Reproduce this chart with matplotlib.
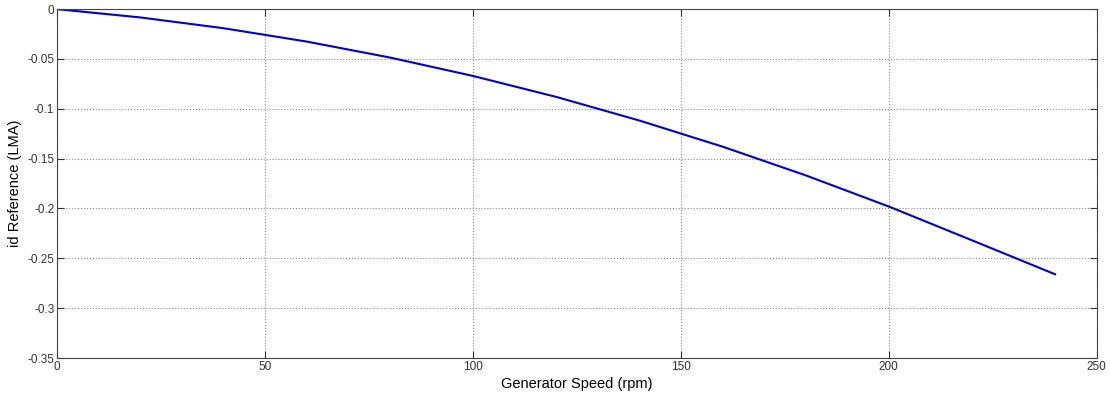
import matplotlib
matplotlib.use("Agg")
import matplotlib.pyplot as plt

# valeurs
speed_rpm = [0, 20, 40, 60, 80, 100, 120, 140, 160, 180, 200, 220, 240]
id_ref = [0.0, -0.0083, -0.0191, -0.0325, -0.0485, -0.067, -0.088,
          -0.1117, -0.1379, -0.1667, -0.198, -0.2319, -0.266]

x_ticks = [0, 50, 100, 150, 200, 250]
y_ticks = [0, -0.05, -0.1, -0.15, -0.2, -0.25, -0.3, -0.35]
y_labels = ["0", "-0.05", "-0.1", "-0.15", "-0.2", "-0.25", "-0.3", "-0.35"]

plt.rcParams['font.family'] = ['Liberation Sans', 'DejaVu Sans']

fig = plt.figure(figsize=(11.1, 3.98), dpi=100)
ax = fig.add_axes([0.0514, 0.1005, 0.9366, 0.8765])

ax.plot(speed_rpm, id_ref, color='#0000c8', linewidth=1.5)

ax.set_xlim(0, 250)
ax.set_ylim(-0.35, 0)
ax.set_xticks(x_ticks)
ax.set_yticks(y_ticks)
ax.set_yticklabels(y_labels)
ax.tick_params(direction='in', top=True, right=True, labelsize=8.5, length=5,
               pad=2, colors='#333333')
ax.grid(True, linestyle=':', color='#888888', linewidth=0.8)

ax.set_xlabel("Generator Speed (rpm)", fontsize=10.5, labelpad=3)
ax.set_ylabel("id Reference (LMA)", fontsize=10.5, labelpad=4)
for s in ax.spines.values():
    s.set_color('#444444')

fig.savefig("out.png", dpi=100)
